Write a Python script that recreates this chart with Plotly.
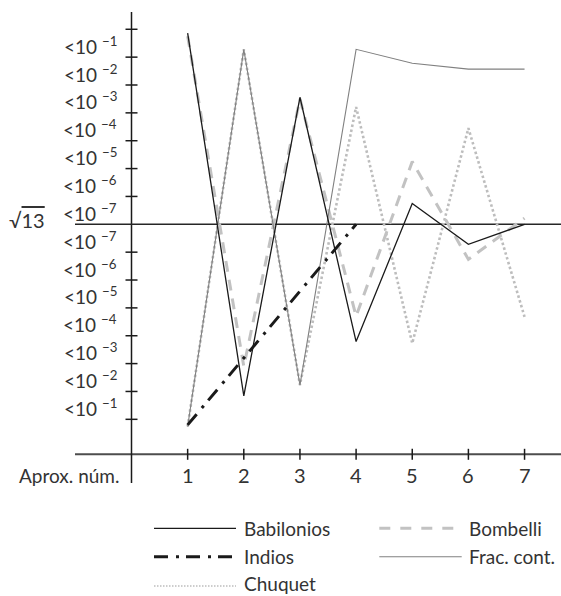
import plotly.graph_objects as go

# ---------------- data (values in "band" units: 0 = sqrt(13), +/-k = error band k) -------------
approx_num = [1, 2, 3, 4, 5, 6, 7]
babilonios = [6.86, -6.16, 4.56, -4.21, 0.75, -0.72, 0.0]
bombelli = [6.75, -5.1, 4.5, -3.3, 2.25, -1.26, 0.22]
frac_cont = [-7.26, 6.28, -5.77, 6.28, 5.78, 5.57, 5.57]
chuquet = [-7.26, 6.28, -5.77, 4.21, -4.27, 3.45, -3.32]
indios_num = [1, 2, 3, 4]
indios = [-7.2, -4.8, -2.4, 0.0]

upper_exponents = [-1, -2, -3, -4, -5, -6, -7]   # labels above sqrt(13), top to bottom
lower_exponents = [-7, -6, -5, -4, -3, -2, -1]   # labels below sqrt(13), top to bottom
x_tick_labels = ["1", "2", "3", "4", "5", "6", "7"]

# ---------------- layout geometry ----------------
W, H = 561, 596
X0_PX, X_UNIT = 131.5, 56.15
Y0_PX, Y_UNIT = 224.3, 27.86


def dx(px):
    return (px - X0_PX) / X_UNIT


def dy(py):
    return (Y0_PX - py) / Y_UNIT


FONT = "Lato, Roboto, sans-serif"
TXT = "#333333"
FS = 19

fig = go.Figure()

series = [
    ("Chuquet", approx_num, chuquet, dict(color="#bdbdbd", width=2.6, dash="2.5px,2.5px")),
    ("Bombelli", approx_num, bombelli, dict(color="#c2c2c2", width=3, dash="11px,8px")),
    ("Frac. cont.", approx_num, frac_cont, dict(color="#808080", width=1.1)),
    ("Babilonios", approx_num, babilonios, dict(color="#1a1a1a", width=1.3)),
    ("Indios", indios_num, indios, dict(color="#1a1a1a", width=3, dash="14px,8px,3px,7px")),
]
for name, xs, ys, line in series:
    fig.add_trace(go.Scatter(x=xs, y=ys, mode="lines", name=name, line=line,
                             showlegend=False, hoverinfo="skip"))

shapes = []
annotations = []

X_AXIS_Y = dy(454.3)
# axis lines
shapes.append(dict(type="line", xref="x", yref="y", x0=dx(75), x1=dx(W), y0=X_AXIS_Y, y1=X_AXIS_Y,
                   line=dict(color="#4d4d4d", width=2), layer="below"))
shapes.append(dict(type="line", xref="x", yref="y", x0=0, x1=0, y0=dy(12), y1=dy(483),
                   line=dict(color="#1a1a1a", width=1.5), layer="below"))
# sqrt(13) reference line
shapes.append(dict(type="line", xref="x", yref="y", x0=dx(75), x1=dx(W), y0=0, y1=0,
                   line=dict(color="#262626", width=1.5), layer="below"))

# y ticks (crossing)
half_tx = 6 / X_UNIT
for k in range(1, 8):
    for s in (1, -1):
        shapes.append(dict(type="line", xref="x", yref="y", x0=-half_tx, x1=half_tx,
                           y0=s * k, y1=s * k, line=dict(color="#1a1a1a", width=1.5), layer="below"))
# x ticks (crossing)
half_ty = 5.5 / Y_UNIT
for xv in approx_num:
    shapes.append(dict(type="line", xref="x", yref="y", x0=xv, x1=xv,
                       y0=X_AXIS_Y - half_ty, y1=X_AXIS_Y + half_ty,
                       line=dict(color="#1a1a1a", width=1.5), layer="below"))

# y tick labels (band centres)
for i, e in enumerate(upper_exponents):
    annotations.append(dict(x=0, y=7 - i - 0.5, xref="x", yref="y", xanchor="right", yanchor="middle",
                            xshift=-13, yshift=-2, showarrow=False,
                            text="&lt;10 <sup>\u2212%d</sup>" % (-e),
                            font=dict(family=FONT, size=FS, color=TXT)))
for i, e in enumerate(lower_exponents):
    annotations.append(dict(x=0, y=-i - 0.5, xref="x", yref="y", xanchor="right", yanchor="middle",
                            xshift=-13, yshift=-2, showarrow=False,
                            text="&lt;10 <sup>\u2212%d</sup>" % (-e),
                            font=dict(family=FONT, size=FS, color=TXT)))
# sqrt(13)
annotations.append(dict(x=dx(7), y=dy(220), xref="x", yref="y", xanchor="left", yanchor="middle",
                        showarrow=False,
                        text="\u221a<span style='text-decoration:overline'>13</span>",
                        font=dict(family=FONT, size=FS + 1, color=TXT)))
# x tick labels
for xv, lab in zip(approx_num, x_tick_labels):
    annotations.append(dict(x=xv, y=dy(475), xref="x", yref="y", xanchor="center", yanchor="middle",
                            showarrow=False, text=lab, font=dict(family=FONT, size=FS + 1, color=TXT)))
annotations.append(dict(x=dx(121), y=dy(475), xref="x", yref="y", xanchor="right", yanchor="middle",
                        showarrow=False, text="Aprox. núm.", font=dict(family=FONT, size=FS, color=TXT)))

# legend (manual): name, line x0, line x1, text x, line y, text y, style
legend_items = [
    ("Babilonios", 154, 236, 241.7, 528.3, 528.3, dict(color="#1a1a1a", width=1.3)),
    ("Indios", 154, 236, 241.7, 556.7, 556.7, dict(color="#1a1a1a", width=3, dash="14px,8px,3px,7px")),
    ("Chuquet", 154, 236, 241.7, 586, 583.5, dict(color="#bdbdbd", width=1.6, dash="1.5px,1.5px")),
    ("Bombelli", 379.3, 457, 466.7, 528.3, 528.3, dict(color="#c2c2c2", width=3, dash="11px,10px")),
    ("Frac. cont.", 379.3, 461.7, 466.7, 556.7, 556.7, dict(color="#808080", width=1.1)),
]
for name, lx0, lx1, tx, ly, ty, line in legend_items:
    shapes.append(dict(type="line", xref="x", yref="y", x0=dx(lx0), x1=dx(lx1), y0=dy(ly), y1=dy(ly),
                       line=line))
    annotations.append(dict(x=dx(tx), y=dy(ty), xref="x", yref="y", xanchor="left", yanchor="middle",
                            showarrow=False, text=name, font=dict(family=FONT, size=FS, color=TXT)))

fig.update_layout(
    width=W, height=H,
    margin=dict(l=0, r=0, t=0, b=0),
    paper_bgcolor="white", plot_bgcolor="white",
    xaxis=dict(visible=False, range=[dx(0), dx(W)], fixedrange=True),
    yaxis=dict(visible=False, range=[dy(H), dy(0)], fixedrange=True),
    shapes=shapes, annotations=annotations,
    showlegend=False,
)

fig.write_html("out.html", config={"displayModeBar": False},
               post_script="document.body.style.margin='0';")
